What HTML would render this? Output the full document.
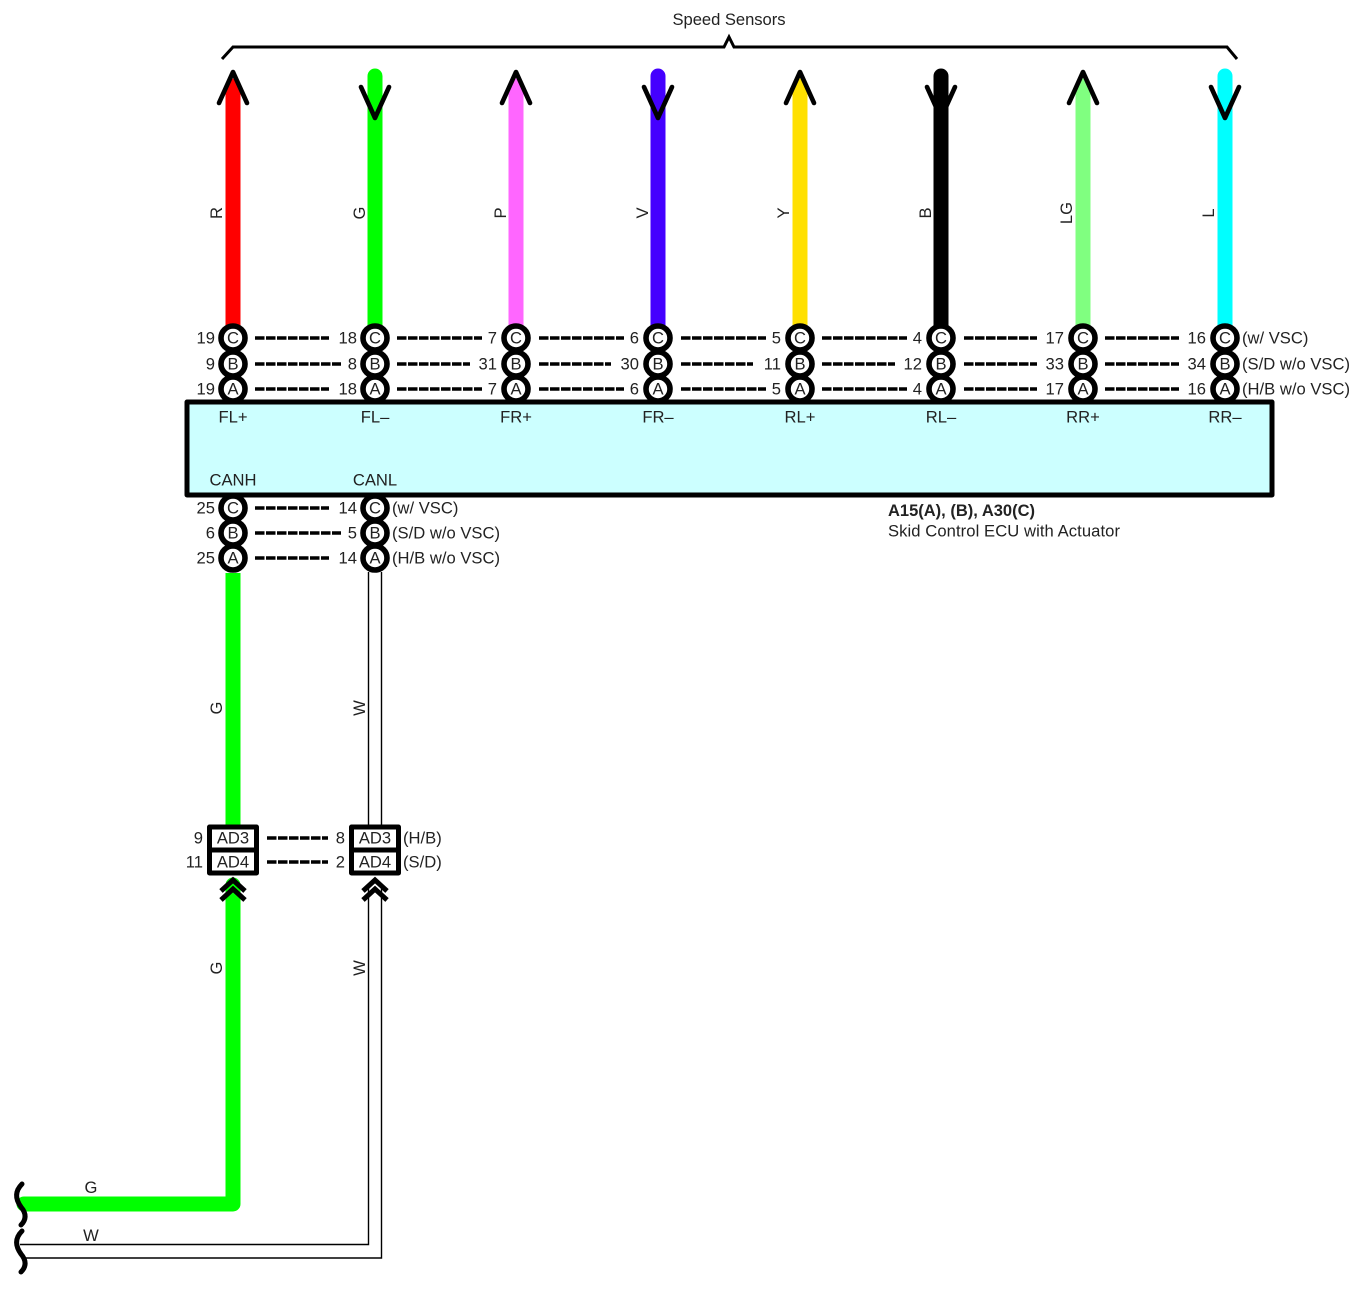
<!DOCTYPE html>
<html><head><meta charset="utf-8"><style>
html,body{margin:0;padding:0;background:#fff}
svg{display:block}
text{font-family:"Liberation Sans",sans-serif;font-size:16.6px;fill:#222}
.m{text-anchor:middle}
</style></head><body>
<svg width="1370" height="1294" viewBox="0 0 1370 1294" xmlns="http://www.w3.org/2000/svg">
<path d="M222 59L233 47H724L729 37L734 47H1227L1237 59" fill="none" stroke="#000" stroke-width="3"/>
<text class="m" x="729" y="25" textLength="113">Speed Sensors</text>

<g fill="none" stroke-linecap="round" stroke-width="15">
<path stroke="#f00" d="M233 86V330"/>
<path stroke="#0f0" d="M375 76V330"/>
<path stroke="#f6f" d="M516 86V330"/>
<path stroke="#4400ff" d="M658 76V330"/>
<path stroke="#ffe000" d="M800 86V330"/>
<path stroke="#000" d="M941 76V330"/>
<path stroke="#80ff80" d="M1083 86V330"/>
<path stroke="#0ff" d="M1225 76V330"/>
</g>
<g fill="none" stroke="#000" stroke-width="4.6" stroke-linecap="round" stroke-linejoin="round">
<path d="M219 103L233 72L247 103"/><path d="M361 87L375 118L389 87"/>
<path d="M502 103L516 72L530 103"/><path d="M644 87L658 118L672 87"/>
<path d="M786 103L800 72L814 103"/><path d="M927 87L941 118L955 87"/>
<path d="M1069 103L1083 72L1097 103"/><path d="M1211 87L1225 118L1239 87"/>
</g>
<g transform="rotate(-90 222 213)"><text class="m" x="222" y="213">R</text></g>
<g transform="rotate(-90 365 213)"><text class="m" x="365" y="213">G</text></g>
<g transform="rotate(-90 506 213)"><text class="m" x="506" y="213">P</text></g>
<g transform="rotate(-90 648 213)"><text class="m" x="648" y="213">V</text></g>
<g transform="rotate(-90 789 213)"><text class="m" x="789" y="213">Y</text></g>
<g transform="rotate(-90 931 213)"><text class="m" x="931" y="213">B</text></g>
<g transform="rotate(-90 1072 213)"><text class="m" x="1072" y="213">LG</text></g>
<g transform="rotate(-90 1214 213)"><text class="m" x="1214" y="213">L</text></g>

<g fill="none" stroke="#000" stroke-width="3.4" stroke-dasharray="9.5 1.5">
<path d="M255 338H329M397 338H482M539 338H624M681 338H766M822 338H907M964 338H1037M1105 338H1179"/>
<path d="M255 364H341M397 364H470M539 364H611M681 364H753M822 364H895M964 364H1037M1105 364H1179"/>
<path d="M255 389H329M397 389H482M539 389H624M681 389H766M822 389H907M964 389H1037M1105 389H1179"/>
<path d="M255 508H329M255 533H341M255 558H329"/>
<path d="M267 838H328M267 862H328"/>
</g>

<rect x="187" y="402" width="1085" height="93" fill="#ccffff" stroke="#000" stroke-width="5" stroke-linejoin="round"/>

<g fill="#fff" stroke="#000" stroke-width="5.6">
<circle cx="233" cy="338" r="12"/><circle cx="375" cy="338" r="12"/><circle cx="516" cy="338" r="12"/><circle cx="658" cy="338" r="12"/><circle cx="800" cy="338" r="12"/><circle cx="941" cy="338" r="12"/><circle cx="1083" cy="338" r="12"/><circle cx="1225" cy="338" r="12"/>
<circle cx="233" cy="364" r="12"/><circle cx="375" cy="364" r="12"/><circle cx="516" cy="364" r="12"/><circle cx="658" cy="364" r="12"/><circle cx="800" cy="364" r="12"/><circle cx="941" cy="364" r="12"/><circle cx="1083" cy="364" r="12"/><circle cx="1225" cy="364" r="12"/>
<circle cx="233" cy="389" r="12"/><circle cx="375" cy="389" r="12"/><circle cx="516" cy="389" r="12"/><circle cx="658" cy="389" r="12"/><circle cx="800" cy="389" r="12"/><circle cx="941" cy="389" r="12"/><circle cx="1083" cy="389" r="12"/><circle cx="1225" cy="389" r="12"/>
<circle cx="233" cy="508" r="12"/><circle cx="375" cy="508" r="12"/>
<circle cx="233" cy="533" r="12"/><circle cx="375" cy="533" r="12"/>
<circle cx="233" cy="558" r="12"/><circle cx="375" cy="558" r="12"/>
</g>
<path d="M187 402H1272" stroke="#000" stroke-width="5" fill="none"/>
<path d="M187 495H1272" stroke="#000" stroke-width="5" fill="none"/>

<g text-anchor="middle">
<text x="233" y="343.5">C</text><text x="375" y="343.5">C</text><text x="516" y="343.5">C</text><text x="658" y="343.5">C</text><text x="800" y="343.5">C</text><text x="941" y="343.5">C</text><text x="1083" y="343.5">C</text><text x="1225" y="343.5">C</text>
<text x="233" y="369.5">B</text><text x="375" y="369.5">B</text><text x="516" y="369.5">B</text><text x="658" y="369.5">B</text><text x="800" y="369.5">B</text><text x="941" y="369.5">B</text><text x="1083" y="369.5">B</text><text x="1225" y="369.5">B</text>
<text x="233" y="394.5">A</text><text x="375" y="394.5">A</text><text x="516" y="394.5">A</text><text x="658" y="394.5">A</text><text x="800" y="394.5">A</text><text x="941" y="394.5">A</text><text x="1083" y="394.5">A</text><text x="1225" y="394.5">A</text>
<text x="233" y="513.5">C</text><text x="375" y="513.5">C</text>
<text x="233" y="538.5">B</text><text x="375" y="538.5">B</text>
<text x="233" y="563.5">A</text><text x="375" y="563.5">A</text>
<text x="233" y="422.5">FL+</text><text x="375" y="422.5">FL–</text><text x="516" y="422.5">FR+</text><text x="658" y="422.5">FR–</text><text x="800" y="422.5">RL+</text><text x="941" y="422.5">RL–</text><text x="1083" y="422.5">RR+</text><text x="1225" y="422.5">RR–</text>
<text x="233" y="485.5">CANH</text><text x="375" y="485.5">CANL</text>
</g>

<g text-anchor="end">
<text x="215" y="343.5">19</text><text x="357" y="343.5">18</text><text x="497" y="343.5">7</text><text x="639" y="343.5">6</text><text x="781" y="343.5">5</text><text x="922" y="343.5">4</text><text x="1064" y="343.5">17</text><text x="1206" y="343.5">16</text>
<text x="215" y="369.5">9</text><text x="357" y="369.5">8</text><text x="497" y="369.5">31</text><text x="639" y="369.5">30</text><text x="781" y="369.5">11</text><text x="922" y="369.5">12</text><text x="1064" y="369.5">33</text><text x="1206" y="369.5">34</text>
<text x="215" y="394.5">19</text><text x="357" y="394.5">18</text><text x="497" y="394.5">7</text><text x="639" y="394.5">6</text><text x="781" y="394.5">5</text><text x="922" y="394.5">4</text><text x="1064" y="394.5">17</text><text x="1206" y="394.5">16</text>
<text x="215" y="513.5">25</text><text x="357" y="513.5">14</text>
<text x="215" y="538.5">6</text><text x="357" y="538.5">5</text>
<text x="215" y="563.5">25</text><text x="357" y="563.5">14</text>
<text x="203" y="843.5">9</text><text x="345" y="843.5">8</text>
<text x="203" y="867.5">11</text><text x="345" y="867.5">2</text>
</g>

<text x="1242" y="343.5">(w/ VSC)</text>
<text x="1242" y="369.5" textLength="108">(S/D w/o VSC)</text>
<text x="1242" y="394.5" textLength="108">(H/B w/o VSC)</text>
<text x="392" y="513.5">(w/ VSC)</text>
<text x="392" y="538.5" textLength="108">(S/D w/o VSC)</text>
<text x="392" y="563.5" textLength="108">(H/B w/o VSC)</text>
<text x="403" y="843.5">(H/B)</text>
<text x="403" y="867.5">(S/D)</text>

<text x="888" y="516" font-weight="bold" textLength="147" lengthAdjust="spacingAndGlyphs">A15(A), (B), A30(C)</text>
<text x="888" y="536.5" textLength="232">Skid Control ECU with Actuator</text>

<path d="M233 573V825" stroke="#0f0" stroke-width="15" fill="none"/>
<path d="M233 885V1204H24" stroke="#0f0" stroke-width="15" fill="none" stroke-linejoin="round" stroke-linecap="round"/>
<path d="M368.5 572V826M381.5 572V826" stroke="#000" stroke-width="1.4" fill="none"/>
<path d="M368.5 885V1244.5H20M381.5 885V1258H25" stroke="#000" stroke-width="1.4" fill="none"/>

<g fill="#fff" stroke="#000" stroke-width="5" stroke-linejoin="round">
<rect x="209.5" y="827" width="47" height="46"/><path d="M209.5 850H256.5"/>
<rect x="351.5" y="827" width="47" height="46"/><path d="M351.5 850H398.5"/>
</g>
<g text-anchor="middle">
<text x="233" y="843.5">AD3</text><text x="233" y="867.5">AD4</text>
<text x="375" y="843.5">AD3</text><text x="375" y="867.5">AD4</text>
</g>
<g fill="none" stroke="#000" stroke-width="5">
<path d="M221 891L233 880L245 891"/><path d="M221 900L233 889L245 900"/>
<path d="M363 891L375 880L387 891"/><path d="M363 900L375 889L387 900"/>
</g>

<g fill="none" stroke="#000" stroke-width="5" stroke-linecap="round">
<path d="M22 1184C14 1192 16 1200 21 1207C27 1214 26 1220 21 1225"/>
<path d="M22 1231C14 1239 16 1247 21 1254C27 1261 26 1267 21 1272"/>
</g>
<text class="m" x="91" y="1193">G</text>
<text class="m" x="91" y="1241">W</text>

<g transform="rotate(-90 222 708)"><text class="m" x="222" y="708">G</text></g>
<g transform="rotate(-90 365 708)"><text class="m" x="365" y="708">W</text></g>
<g transform="rotate(-90 222 968)"><text class="m" x="222" y="968">G</text></g>
<g transform="rotate(-90 365 968)"><text class="m" x="365" y="968">W</text></g>
</svg>
</body></html>
